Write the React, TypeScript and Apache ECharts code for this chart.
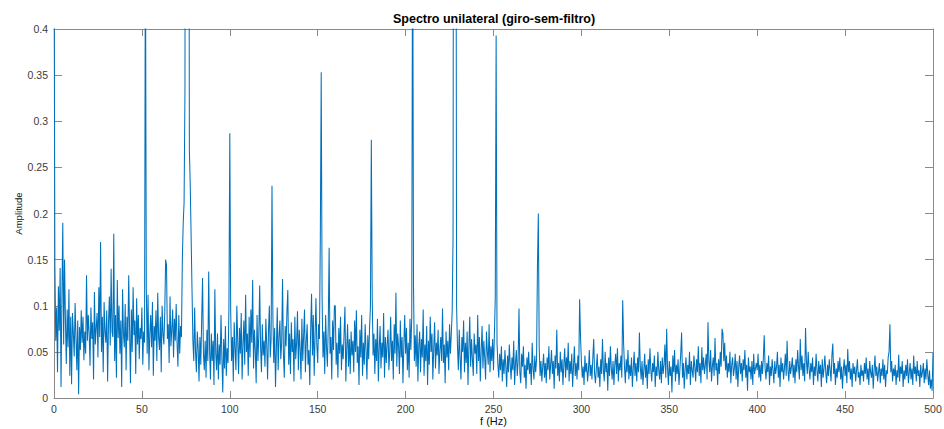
import React, { useEffect, useRef } from "react";
import * as echarts from "echarts";

// Frequency resolution of the spectrum (Hz per sample) and amplitude unit (values below are in 1/1000)
const FREQ_STEP = 0.5;
const AMP_UNIT = 0.001;

// Amplitude (x1000), 0 – 99.5 Hz
const amp0to100 = [
  520, 144, 62, 98, 28, 121, 73, 141, 12, 108, 190, 58, 150, 84, 37, 96, 55, 118, 24, 88,
  15, 92, 70, 45, 103, 66, 30, 84, 4, 77, 52, 95, 60, 88, 41, 72, 48, 133, 62, 90,
  70, 35, 98, 64, 82, 20, 115, 58, 76, 92, 44, 120, 66, 169, 50, 88, 28, 104, 72, 60,
  95, 18, 82, 110, 57, 140, 72, 66, 178, 40, 90, 22, 128, 65, 100, 48, 84, 12, 118, 70,
  55, 102, 30, 88, 62, 133, 74, 16, 96, 50, 120, 68, 84, 26, 108, 58, 90, 42, 76, 64,
  98, 36, 72, 60, 520, 120, 48, 112, 30, 70, 90, 55, 104, 24, 78, 62, 95, 40, 114, 66,
  52, 88, 28, 100, 70, 58, 92, 150, 144, 64, 80, 38, 110, 56, 74, 96, 44, 86, 62, 102,
  60, 34, 90, 48, 78, 66, 150, 190, 212, 334, 1500, 1700, 1300, 1000, 269, 230, 175, 118, 62, 40,
  98, 50, 28, 72, 54, 18, 66, 36, 84, 130, 48, 30, 62, 22, 74, 40, 137, 52, 20, 70,
  40, 62, 14, 118, 48, 30, 70, 20, 58, 36, 90, 44, 6, 64, 32, 78, 24, 54, 38, 96,
];

// Amplitude (x1000), 100 – 199.5 Hz
const amp100to200 = [
  287, 95, 40, 66, 18, 82, 54, 30, 100, 62, 26, 76, 48, 92, 20, 58, 84, 36, 112, 50,
  70, 24, 88, 44, 96, 60, 128, 32, 74, 52, 16, 90, 40, 68, 122, 56, 28, 80, 46, 62,
  34, 86, 58, 20, 72, 100, 44, 64, 230, 90, 38, 76, 12, 54, 98, 30, 66, 84, 42, 60,
  129, 48, 22, 78, 56, 94, 117, 36, 70, 26, 82, 50, 64, 18, 88, 42, 60, 94, 30, 74,
  54, 20, 86, 40, 68, 96, 28, 62, 80, 36, 52, 14, 74, 113, 46, 90, 24, 66, 108, 58,
  38, 80, 64, 175, 353, 110, 44, 72, 26, 90, 56, 34, 78, 163, 48, 66, 20, 84, 52, 100,
  100, 36, 60, 22, 76, 48, 88, 30, 58, 42, 70, 99, 18, 54, 80, 34, 64, 26, 72, 46,
  62, 28, 84, 50, 95, 38, 56, 14, 74, 44, 90, 24, 60, 36, 80, 52, 20, 68, 42, 76,
  99, 280, 110, 46, 70, 26, 64, 40, 86, 18, 54, 78, 32, 60, 44, 92, 22, 66, 38, 58,
  74, 30, 52, 88, 40, 62, 20, 80, 48, 114, 34, 70, 56, 26, 84, 44, 66, 16, 58, 90,
];

// Amplitude (x1000), 200 – 299.5 Hz
const amp200to300 = [
  48, 76, 30, 60, 22, 86, 52, 88, 560, 120, 40, 68, 34, 80, 18, 56, 72, 28, 64, 44,
  96, 24, 58, 40, 78, 14, 62, 36, 88, 50, 70, 20, 54, 82, 32, 60, 46, 74, 26, 52,
  66, 40, 97, 38, 58, 16, 72, 44, 62, 30, 80, 48, 70, 94, 175, 1200, 1500, 900, 100, 56,
  30, 74, 44, 20, 66, 50, 84, 28, 60, 38, 72, 14, 56, 88, 34, 64, 42, 24, 70, 48,
  58, 26, 90, 40, 66, 18, 52, 78, 32, 62, 44, 20, 72, 50, 36, 80, 28, 56, 40, 64,
  30, 68, 108, 393, 60, 36, 22, 48, 30, 56, 18, 42, 26, 52, 34, 12, 46, 28, 58, 36,
  20, 44, 30, 62, 14, 38, 52, 24, 40, 97, 28, 16, 48, 34, 56, 22, 36, 10, 44, 30,
  50, 26, 38, 14, 60, 32, 20, 46, 28, 42, 143, 200, 54, 24, 40, 18, 34, 48, 22, 38,
  16, 44, 30, 56, 20, 36, 52, 26, 40, 10, 46, 32, 74, 24, 38, 18, 50, 28, 42, 14,
  36, 54, 22, 44, 30, 60, 18, 40, 26, 48, 12, 34, 56, 24, 38, 20, 46, 30, 107, 66,
];

// Amplitude (x1000), 300 – 399.5 Hz
const amp300to400 = [
  40, 22, 34, 14, 46, 28, 38, 18, 30, 52, 24, 36, 20, 44, 64, 26, 16, 32, 48, 22,
  34, 12, 42, 26, 64, 30, 18, 50, 28, 38, 8, 44, 24, 56, 32, 20, 40, 14, 36, 48,
  26, 54, 18, 38, 30, 46, 22, 106, 60, 34, 16, 42, 28, 52, 20, 36, 24, 44, 12, 32,
  50, 24, 38, 18, 44, 28, 71, 34, 20, 40, 14, 30, 48, 22, 36, 10, 42, 26, 54, 30,
  18, 38, 28, 46, 12, 34, 24, 50, 30, 20, 40, 16, 44, 26, 36, 58, 22, 75, 32, 14,
  40, 24, 34, 6, 46, 28, 52, 18, 36, 26, 42, 14, 30, 48, 71, 22, 38, 10, 32, 44,
  20, 36, 26, 50, 14, 40, 30, 22, 46, 34, 18, 42, 28, 56, 24, 38, 16, 55, 30, 44,
  26, 36, 48, 20, 82, 40, 28, 52, 18, 34, 44, 24, 65, 30, 38, 14, 42, 26, 50, 34,
  75, 70, 40, 60, 30, 46, 22, 38, 28, 50, 16, 36, 44, 24, 32, 48, 20, 40, 12, 34,
  46, 26, 38, 18, 42, 30, 52, 22, 36, 8, 44, 28, 34, 20, 40, 14, 48, 26, 32, 38,
];

// Amplitude (x1000), 400 – 500 Hz
const amp400to500 = [
  30, 48, 22, 36, 18, 40, 26, 44, 68, 32, 20, 38, 28, 46, 14, 34, 24, 42, 30, 16,
  40, 26, 34, 50, 22, 36, 12, 44, 28, 38, 20, 32, 48, 24, 62, 30, 18, 40, 26, 34,
  44, 22, 36, 16, 42, 28, 52, 34, 20, 64, 30, 46, 24, 38, 18, 76, 40, 26, 50, 32,
  20, 38, 28, 44, 14, 34, 24, 48, 30, 18, 40, 26, 36, 12, 42, 22, 32, 46, 28, 16,
  36, 24, 42, 30, 18, 46, 59, 26, 38, 14, 32, 22, 40, 28, 44, 20, 34, 10, 30, 42,
  24, 36, 16, 53, 28, 40, 20, 32, 12, 38, 26, 34, 18, 30, 42, 22, 28, 14, 36, 24,
  30, 18, 38, 26, 44, 20, 32, 14, 40, 28, 22, 36, 10, 30, 46, 24, 34, 18, 28, 38,
  16, 32, 24, 42, 20, 36, 12, 30, 26, 44, 50, 80, 28, 40, 18, 32, 24, 36, 14, 30,
  22, 47, 18, 34, 26, 40, 12, 30, 20, 36, 24, 42, 16, 28, 38, 20, 32, 14, 46, 26,
  34, 18, 40, 24, 30, 12, 36, 22, 28, 38, 16, 32, 20, 42, 26, 14, 30, 10, 20, 8,
  49,
];

const xTicks = { min: 0, max: 500, interval: 50 };
const yTicks = { min: 0, max: 0.4, interval: 0.05 };

const TITLE = "Spectro unilateral (giro-sem-filtro)";
const X_NAME = "f (Hz)";
const Y_NAME = "Amplitude";

export default function App() {
  const ref = useRef<HTMLDivElement>(null);

  useEffect(() => {
    if (!ref.current) return;
    const chart = echarts.init(ref.current, undefined, { renderer: "svg" });

    const amps = [
      ...amp0to100,
      ...amp100to200,
      ...amp200to300,
      ...amp300to400,
      ...amp400to500,
    ];
    const data = amps.map((a, i) => [i * FREQ_STEP, a * AMP_UNIT]);

    const font = "'Liberation Sans', Arial, Helvetica, sans-serif";
    const axisColor = "#8a8a8a";
    const labelColor = "#3a3a3a";

    const makeX = (position: string, showLabel: boolean) => ({
      type: "value",
      position,
      min: xTicks.min,
      max: xTicks.max,
      interval: xTicks.interval,
      splitLine: { show: false },
      axisLine: { show: true, onZero: false, lineStyle: { color: axisColor, width: 1 } },
      axisTick: { show: true, inside: true, length: 7, lineStyle: { color: axisColor, width: 1 } },
      axisLabel: {
        show: showLabel,
        margin: 5,
        color: labelColor,
        fontSize: 10.5,
        fontFamily: font,
      },
    });
    const makeY = (position: string, showLabel: boolean) => ({
      type: "value",
      position,
      min: yTicks.min,
      max: yTicks.max,
      interval: yTicks.interval,
      splitLine: { show: false },
      axisLine: { show: true, onZero: false, lineStyle: { color: axisColor, width: 1 } },
      axisTick: { show: true, inside: true, length: 8, lineStyle: { color: axisColor, width: 1 } },
      axisLabel: {
        show: showLabel,
        margin: 6,
        color: labelColor,
        fontSize: 10.5,
        fontFamily: font,
      },
    });

    chart.setOption({
      animation: false,
      backgroundColor: "#ffffff",
      grid: {
        left: 54,
        right: 11,
        top: 29,
        bottom: 31,
        containLabel: false,
        outerBoundsMode: "none",
      },
      graphic: [
        {
          type: "text",
          x: 494,
          y: 19,
          style: {
            text: TITLE,
            font: `bold 12.5px ${font}`,
            fill: "#000000",
            align: "center",
            verticalAlign: "middle",
          },
        },
      ],
      xAxis: [
        {
          ...makeX("bottom", true),
          name: X_NAME,
          nameLocation: "middle",
          nameGap: 17,
          nameMoveOverlap: false,
          nameTextStyle: { color: "#111111", fontSize: 11, fontFamily: font },
        },
        makeX("top", false),
      ],
      yAxis: [
        {
          ...makeY("left", true),
          name: Y_NAME,
          nameLocation: "middle",
          nameGap: 31,
          nameRotate: 90,
          nameMoveOverlap: false,
          nameTextStyle: { color: "#111111", fontSize: 9.5, fontFamily: font },
        },
        makeY("right", false),
      ],
      series: [
        {
          type: "line",
          xAxisIndex: 0,
          yAxisIndex: 0,
          data,
          showSymbol: false,
          symbol: "none",
          clip: true,
          lineStyle: { color: "#0072BD", width: 1.05 },
          itemStyle: { color: "#0072BD" },
        },
      ],
    });

    return () => chart.dispose();
  }, []);

  return (
    <div
      ref={ref}
      style={{ position: "fixed", left: 0, top: 0, width: 944, height: 429, background: "#fff" }}
    />
  );
}
